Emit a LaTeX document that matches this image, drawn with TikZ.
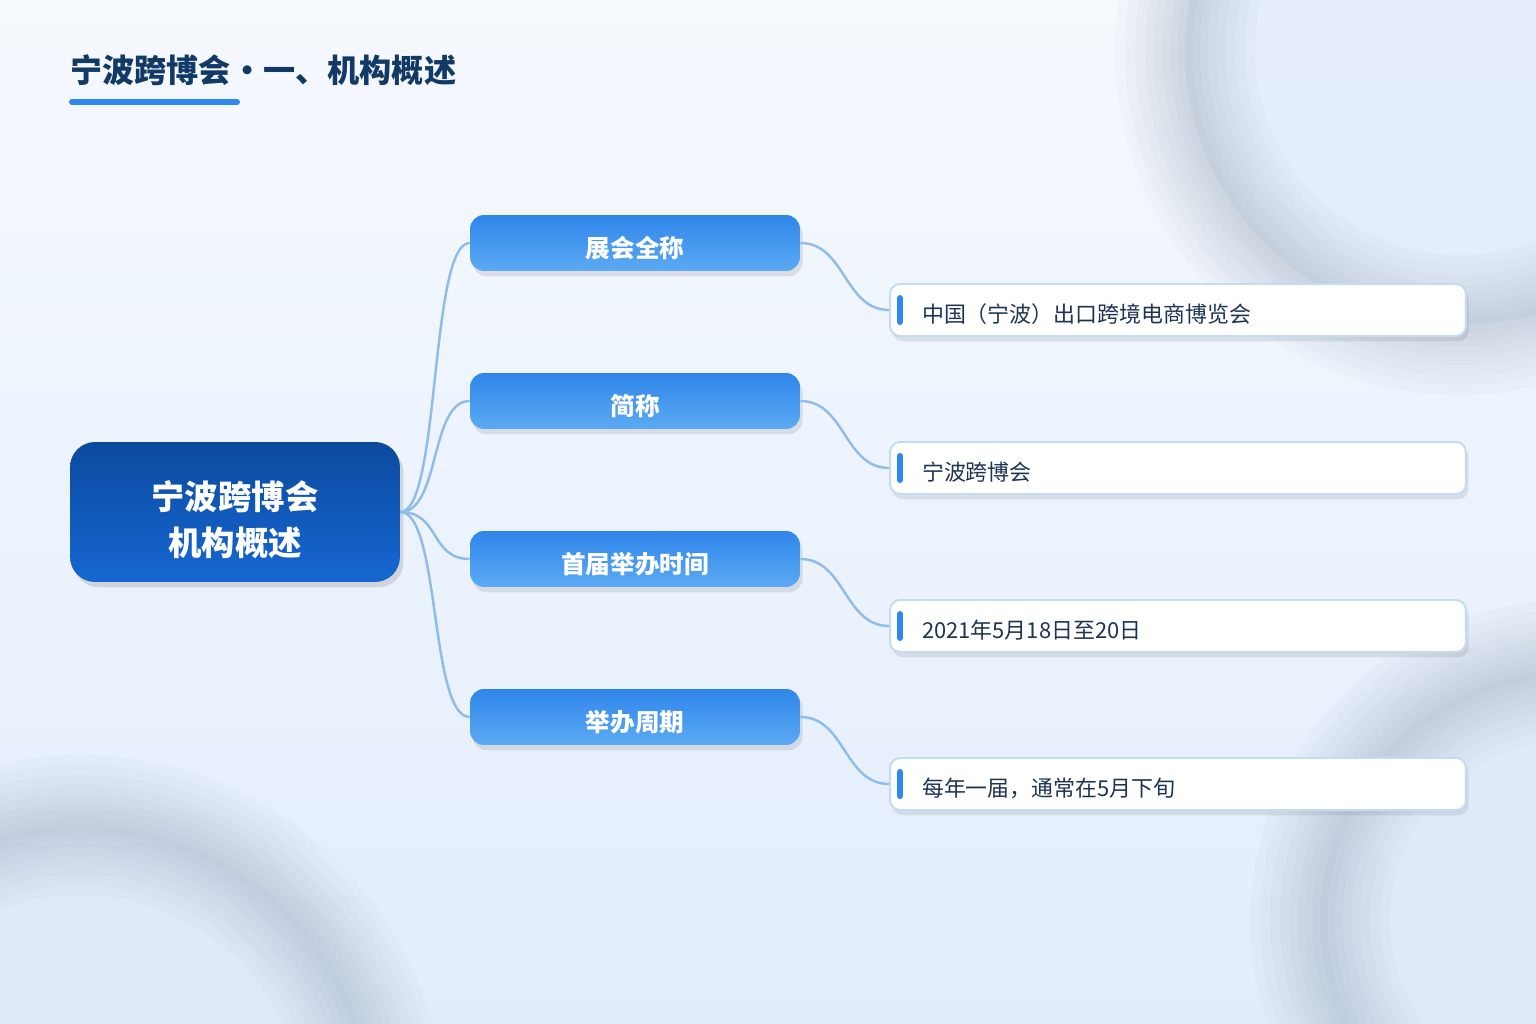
\documentclass[tikz,border=0pt]{standalone}
\usepackage{fontspec}
\setmainfont{Noto Sans CJK SC}
\usetikzlibrary{calc}
\usetikzlibrary{shadows}
\definecolor{bgtop}{HTML}{F6F9FE}
\definecolor{bgbot}{HTML}{E2EDFB}
\definecolor{ringgray}{HTML}{8494A8}
\definecolor{ringfill}{HTML}{DCE8F9}
\definecolor{titlenavy}{HTML}{123A66}
\definecolor{leafnavy}{HTML}{1E3452}
\definecolor{accentblue}{HTML}{2F88EC}
\definecolor{roottop}{HTML}{0C4A9E}
\definecolor{rootbot}{HTML}{1667D3}
\definecolor{branchtop}{HTML}{2F86EA}
\definecolor{branchbot}{HTML}{5CAAF3}
\definecolor{leafline}{HTML}{C3DBF4}
\definecolor{linkblue}{HTML}{8EBDE9}

\begin{document}
\begin{tikzpicture}[x=0.02cm, y=-0.02cm,
		title/.style={anchor=west, inner sep=0pt, text=titlenavy, font=\fontsize{18.3}{22}\selectfont\bfseries},
		underline/.style={line width=3.4pt, draw=accentblue, line cap=round},
		root/.style={rounded corners=0.5cm, top color=roottop, bottom color=rootbot, minimum width=6.6cm, minimum height=2.8cm, text=white, font=\fontsize{19}{26}\selectfont\bfseries, drop shadow={opacity=0.25, shadow xshift=2pt, shadow yshift=-3pt}},
		branch/.style={rounded corners=0.28cm, top color=branchtop, bottom color=branchbot, minimum width=6.6cm, minimum height=1.12cm, text height=16.3pt, text depth=0pt, text=white, font=\fontsize{14}{17}\selectfont\bfseries, drop shadow={opacity=0.2, shadow xshift=1.5pt, shadow yshift=-3pt}},
		leaf/.style={rounded corners=0.2cm, fill=white, draw=leafline, line width=1.1pt, text width=10.24cm, inner xsep=0.64cm, minimum height=1.04cm, text height=14pt, text depth=0pt, align=left, text=leafnavy, font=\fontsize{12.5}{15}\selectfont, drop shadow={opacity=0.18, shadow xshift=1.5pt, shadow yshift=-3pt}},
		accent/.style={line width=3.4pt, draw=accentblue, line cap=round},
		link/.style={line width=1.4pt, draw=linkblue},
		ring/.style={draw=ringgray}
	]
	% background
	\useasboundingbox (0,0) rectangle (1536,1024);
	\shade[top color=bgtop, bottom color=bgbot] (0,0) rectangle (1536,1024);
	\begin{scope}
		\clip (0,0) rectangle (1536,1024);
		\fill[ringfill, opacity=0.6] (1460,50) circle (5.5cm);
		\fill[ringfill, opacity=0.6] (80,1120) circle (5.9cm);
		\fill[ringfill, opacity=0.6] (1570,920) circle (5cm);
		\foreach \w in {2.8, 2.4, 2.0, 1.6, 1.25, 0.9, 0.6, 0.3} {
			\draw[ring, line width=\w cm, opacity=0.045] (1460,50) circle (5.5cm);
			\draw[ring, line width=\w cm, opacity=0.045] (80,1120) circle (5.9cm);
			\draw[ring, line width=\w cm, opacity=0.045] (1570,920) circle (5cm);
		}
	\end{scope}

	% title
	\node[title] (title) at (70,70) {宁波跨博会・一、机构概述};
	\draw[underline] (72,102) -- (237,102);

	% mind map
	\node[root] (root) at (235,512) {\raisebox{-6.5pt}[\height][\depth]{\begin{tabular}{@{}c@{}}宁波跨博会\\机构概述\end{tabular}}};

	\node[branch] (b1) at (635,243) {展会全称};
	\node[branch] (b2) at (635,401) {简称};
	\node[branch] (b3) at (635,559) {首届举办时间};
	\node[branch] (b4) at (635,717) {举办周期};

	\node[leaf] (l1) at (1178,310) {中国（宁波）出口跨境电商博览会};
	\node[leaf] (l2) at (1178,468) {宁波跨博会};
	\node[leaf] (l3) at (1178,626) {2021年5月18日至20日};
	\node[leaf] (l4) at (1178,784) {每年一届，通常在5月下旬};

	\draw[accent] ([xshift=0.22cm, yshift=0.24cm]l1.west) -- ([xshift=0.22cm, yshift=-0.24cm]l1.west);
	\draw[accent] ([xshift=0.22cm, yshift=0.24cm]l2.west) -- ([xshift=0.22cm, yshift=-0.24cm]l2.west);
	\draw[accent] ([xshift=0.22cm, yshift=0.24cm]l3.west) -- ([xshift=0.22cm, yshift=-0.24cm]l3.west);
	\draw[accent] ([xshift=0.22cm, yshift=0.24cm]l4.west) -- ([xshift=0.22cm, yshift=-0.24cm]l4.west);

	\draw[link] (root.east) .. controls ($(root.east)+(40,0)$) and ($(b1.west)+(-40,0)$) .. (b1.west);
	\draw[link] (root.east) .. controls ($(root.east)+(40,0)$) and ($(b2.west)+(-40,0)$) .. (b2.west);
	\draw[link] (root.east) .. controls ($(root.east)+(40,0)$) and ($(b3.west)+(-40,0)$) .. (b3.west);
	\draw[link] (root.east) .. controls ($(root.east)+(40,0)$) and ($(b4.west)+(-40,0)$) .. (b4.west);

	\draw[link] (b1.east) .. controls ($(b1.east)+(45,0)$) and ($(l1.west)+(-45,0)$) .. (l1.west);
	\draw[link] (b2.east) .. controls ($(b2.east)+(45,0)$) and ($(l2.west)+(-45,0)$) .. (l2.west);
	\draw[link] (b3.east) .. controls ($(b3.east)+(45,0)$) and ($(l3.west)+(-45,0)$) .. (l3.west);
	\draw[link] (b4.east) .. controls ($(b4.east)+(45,0)$) and ($(l4.west)+(-45,0)$) .. (l4.west);
\end{tikzpicture}
\end{document}
